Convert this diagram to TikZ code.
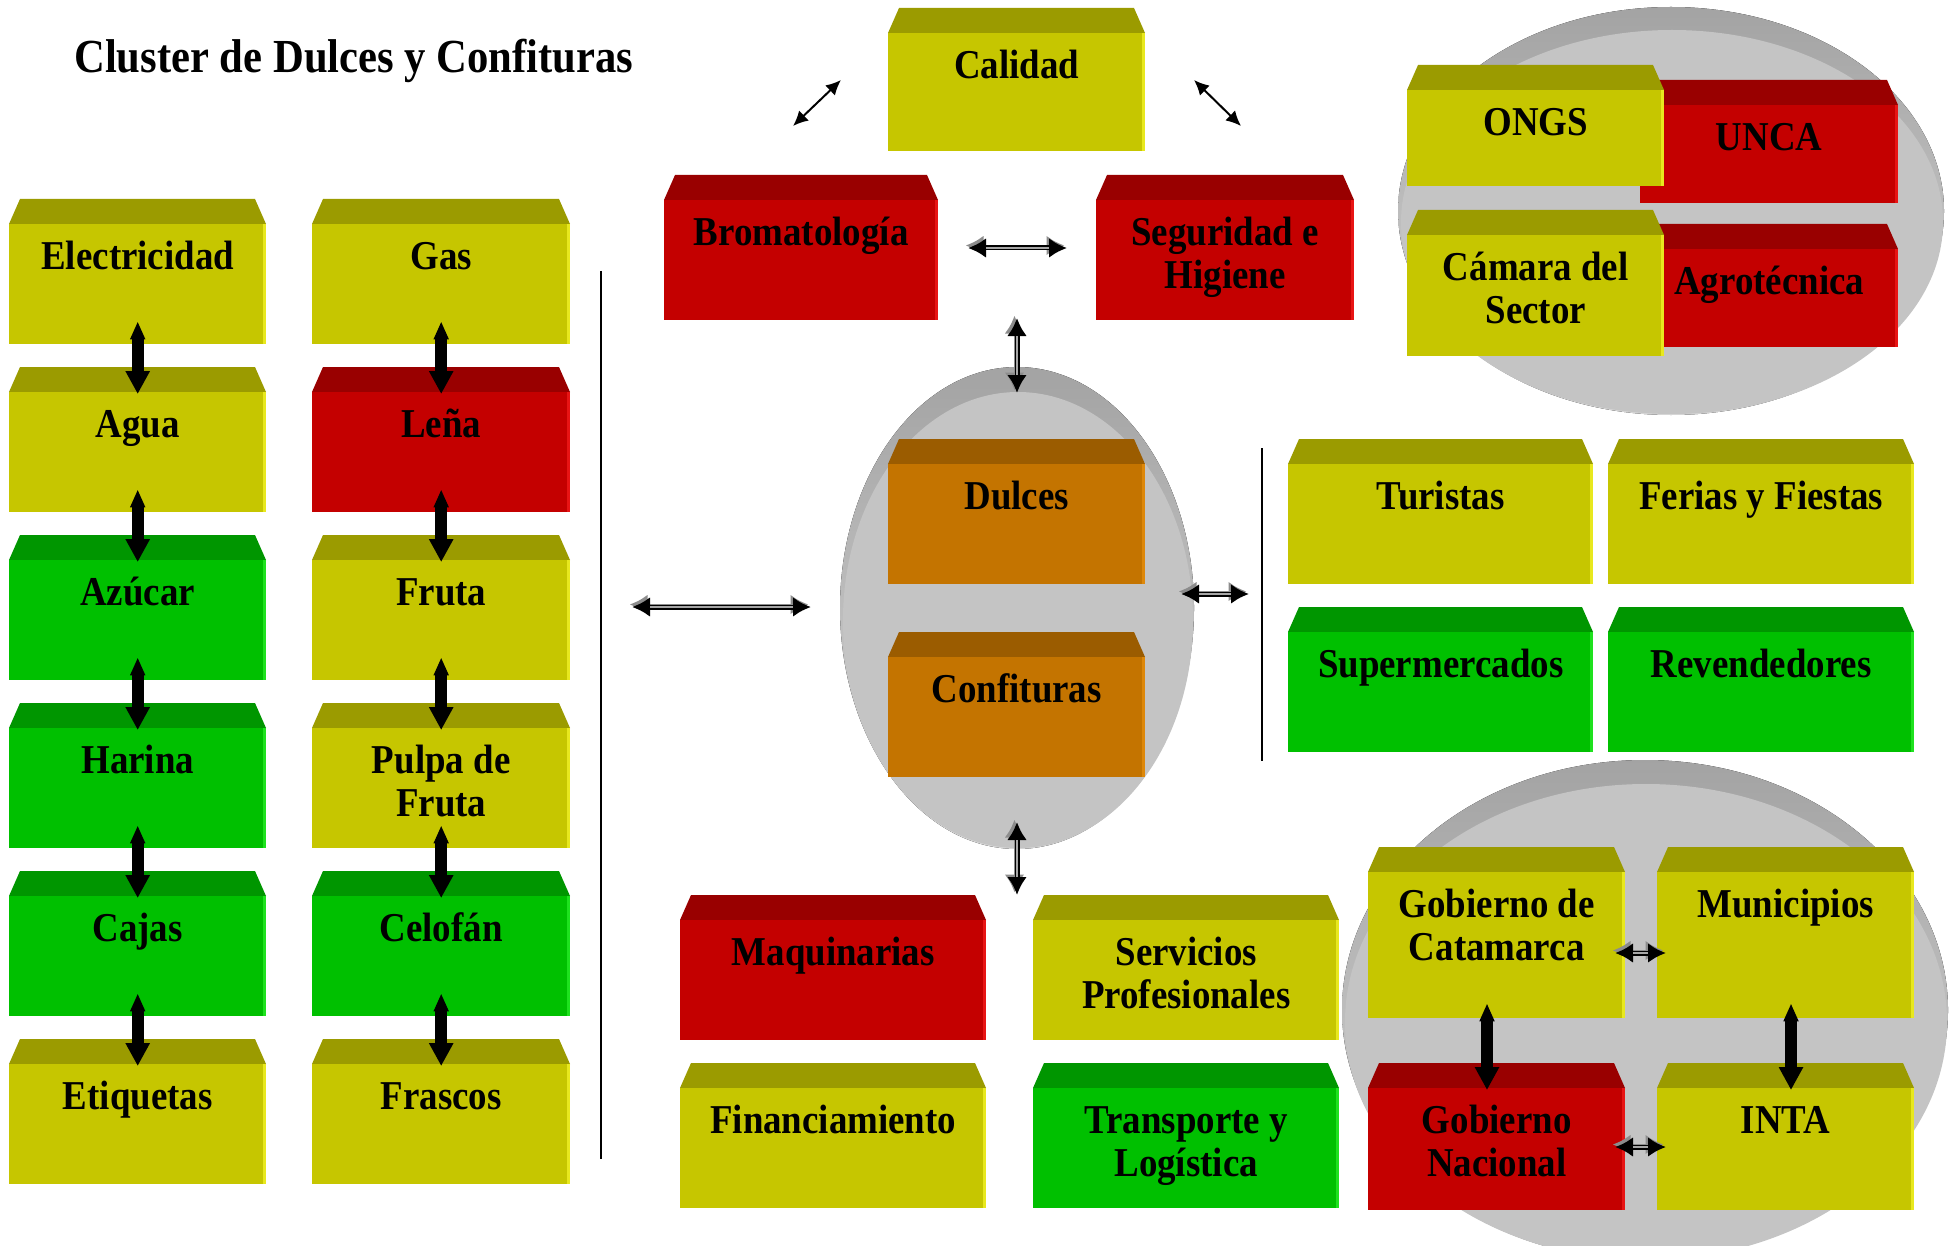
\documentclass[tikz,border=0pt]{standalone}
\usepackage{fontspec}
\setmainfont{Liberation Serif}[FakeStretch=0.9]
\usetikzlibrary{arrows.meta}

% box colours: front face, top face, bright right edge
\definecolor{yfront}{RGB}{198,198,0}\definecolor{ytop}{RGB}{155,155,0}\definecolor{yedge}{RGB}{232,232,30}
\definecolor{rfront}{RGB}{196,0,0}\definecolor{rtop}{RGB}{153,0,0}\definecolor{redge}{RGB}{232,20,20}
\definecolor{gfront}{RGB}{0,192,0}\definecolor{gtop}{RGB}{0,150,0}\definecolor{gedge}{RGB}{30,226,30}
\definecolor{ofront}{RGB}{196,116,0}\definecolor{otop}{RGB}{155,92,0}\definecolor{oedge}{RGB}{222,136,10}
\definecolor{discgray}{RGB}{196,196,196}

\newcommand\cbxfont{\fontsize{41}{43}\selectfont\bfseries}
\newcommand\ttlfont{\fontsize{47.4}{52}\selectfont\bfseries}

% #1 name, #2 left x, #3 top y, #4 width, #5 front height, #6 colour key, #7 text
\newcommand\clbox[7]{%
  \fill[#6top] ({#2+11},#3) -- ({#2+#4-11},#3) -- ({#2+#4},{#3+25}) -- (#2,{#3+25}) -- cycle;
  \node[boxface, fill=#6front, minimum width=#4, minimum height=#5] (#1) at (#2,{#3+25}) {};
  \fill[#6edge] ({#2+#4-3},{#3+25}) rectangle ({#2+#4},{#3+25+#5});
  \node[boxtext] (#1t) at ([yshift=-15pt]#1.north) {\strut #7};
}

\tikzset{
  boxface/.style={rectangle, anchor=north west, inner sep=0pt, draw=none},
  boxtext/.style={anchor=north, align=center, inner sep=0pt, font=\cbxfont},
  blockarrow/.style={line width=12pt, black,
    {Triangle[length=18pt,width=14pt]}-{Triangle[length=23pt,width=23pt]}},
  dblarrow/.style={line width=5pt, black,
    {Latex[length=18pt,width=20pt]}-{Latex[length=18pt,width=20pt]},
    preaction={draw=black!45, transform canvas={xshift=-2.5pt,yshift=2.5pt}},
    postaction={draw=black!35, line width=1.4pt, -, shorten <=18pt, shorten >=18pt}},
  thinarrow/.style={line width=2pt, black,
    {Latex[length=15pt,width=14pt]}-{Latex[length=15pt,width=14pt]}},
  sepline/.style={line width=2pt, black},
  discrim/.style={top color=black!36, bottom color=black!16},
  discface/.style={fill=discgray}
}

\begin{document}
\begin{tikzpicture}[x=1pt,y=-1pt]
\useasboundingbox (0,0) rectangle (1950,1246);
\fill[white] (0,0) rectangle (1950,1246);

\node[anchor=base west, inner sep=0pt, font=\ttlfont] (title) at (74,73) {Cluster de Dulces y Confituras};

% supply chain, two columns
\clbox{elec}{9}{199}{257}{120}{y}{Electricidad}
\clbox{agua}{9}{367}{257}{120}{y}{Agua}
\clbox{azuc}{9}{535}{257}{120}{g}{Azúcar}
\clbox{hari}{9}{703}{257}{120}{g}{Harina}
\clbox{caja}{9}{871}{257}{120}{g}{Cajas}
\clbox{etiq}{9}{1039}{257}{120}{y}{Etiquetas}

\clbox{gas}{312}{199}{258}{120}{y}{Gas}
\clbox{lena}{312}{367}{258}{120}{r}{Leña}
\clbox{frut}{312}{535}{258}{120}{y}{Fruta}
\clbox{pulp}{312}{703}{258}{120}{y}{Pulpa de\\Fruta}
\clbox{celo}{312}{871}{258}{120}{g}{Celofán}
\clbox{fras}{312}{1039}{258}{120}{y}{Frascos}

\foreach \u/\v in {elec/agua, agua/azuc, azuc/hari, hari/caja, caja/etiq,
                   gas/lena, lena/frut, frut/pulp, pulp/celo, celo/fras}
  \draw[blockarrow] ([yshift=23pt]\u.south) -- ([yshift=-2pt]\v.north);

\coordinate (sepL1) at (601,271); \coordinate (sepL2) at (601,1159);
\draw[sepline] (sepL1) -- (sepL2);

\coordinate (supA) at (632,607); \coordinate (supB) at (811,607);
\draw[dblarrow] (supA) -- (supB);

% core of the cluster
\fill[discrim] (1017,608) ellipse [x radius=177, y radius=241];
\fill[discface] (1018,620) ellipse [x radius=175, y radius=228];
\clbox{dulc}{888}{439}{257}{120}{o}{Dulces}
\clbox{conf}{888}{632}{257}{120}{o}{Confituras}

% quality and control
\clbox{cali}{888}{8}{257}{118}{y}{Calidad}
\clbox{brom}{664}{175}{274}{120}{r}{Bromatología}
\clbox{segu}{1096}{175}{258}{120}{r}{Seguridad e\\Higiene}

\coordinate (q1a) at (793,126); \coordinate (q1b) at (841,80);
\coordinate (q2a) at (1194,80); \coordinate (q2b) at (1241,126);
\draw[thinarrow] (q1a) -- (q1b);
\draw[thinarrow] (q2a) -- (q2b);
\coordinate (q3a) at (968,248); \coordinate (q3b) at (1067,248);
\draw[dblarrow] (q3a) -- (q3b);
\coordinate (q4a) at (1017,318); \coordinate (q4b) at (1017,393);
\draw[dblarrow] (q4a) -- (q4b);

% institutions
\fill[discrim] (1671,211) ellipse [x radius=273, y radius=204];
\fill[discface] (1672,222) ellipse [x radius=271, y radius=192];
\clbox{unca}{1640}{80}{258}{98}{r}{UNCA}
\clbox{ongs}{1407}{65}{257}{96}{y}{ONGS}
\clbox{agro}{1640}{224}{258}{98}{r}{Agrotécnica}
\clbox{cama}{1407}{210}{257}{121}{y}{Cámara del\\Sector}

% market
\coordinate (m1a) at (1181,594); \coordinate (m1b) at (1249,594);
\draw[dblarrow] (m1a) -- (m1b);
\coordinate (sepR1) at (1262,448); \coordinate (sepR2) at (1262,761);
\draw[sepline] (sepR1) -- (sepR2);
\clbox{turi}{1288}{439}{305}{120}{y}{Turistas}
\clbox{feri}{1608}{439}{306}{120}{y}{Ferias y Fiestas}
\clbox{supe}{1288}{607}{305}{120}{g}{Supermercados}
\clbox{reve}{1608}{607}{306}{120}{g}{Revendedores}

% services
\coordinate (s1a) at (1017,822); \coordinate (s1b) at (1017,895);
\draw[dblarrow] (s1a) -- (s1b);
\clbox{maqu}{680}{895}{306}{120}{r}{Maquinarias}
\clbox{serv}{1033}{895}{306}{120}{y}{Servicios\\Profesionales}
\clbox{fina}{680}{1063}{306}{120}{y}{Financiamiento}
\clbox{tran}{1033}{1063}{306}{120}{g}{Transporte y\\Logística}

% government
\begin{scope}
\clip (0,0) rectangle (1950,1246);
\fill[discrim] (1645,1010) ellipse [x radius=303, y radius=250];
\fill[discface] (1646,1022) ellipse [x radius=301, y radius=238];
\end{scope}
\clbox{gcat}{1368}{847}{257}{146}{y}{Gobierno de\\Catamarca}
\clbox{muni}{1657}{847}{257}{146}{y}{Municipios}
\clbox{gnac}{1368}{1063}{257}{122}{r}{Gobierno\\Nacional}
\clbox{inta}{1657}{1063}{257}{122}{y}{INTA}

\coordinate (g1a) at (1615,953); \coordinate (g1b) at (1666,953);
\draw[dblarrow] (g1a) -- (g1b);
\coordinate (g2a) at (1615,1147); \coordinate (g2b) at (1666,1147);
\draw[dblarrow] (g2a) -- (g2b);
\draw[blockarrow] ([yshift=15pt]gcat.south -| 1487,0) -- ([yshift=-2pt]gnac.north -| 1487,0);
\draw[blockarrow] ([yshift=15pt]muni.south -| 1791,0) -- ([yshift=-2pt]inta.north -| 1791,0);
\end{tikzpicture}
\end{document}
